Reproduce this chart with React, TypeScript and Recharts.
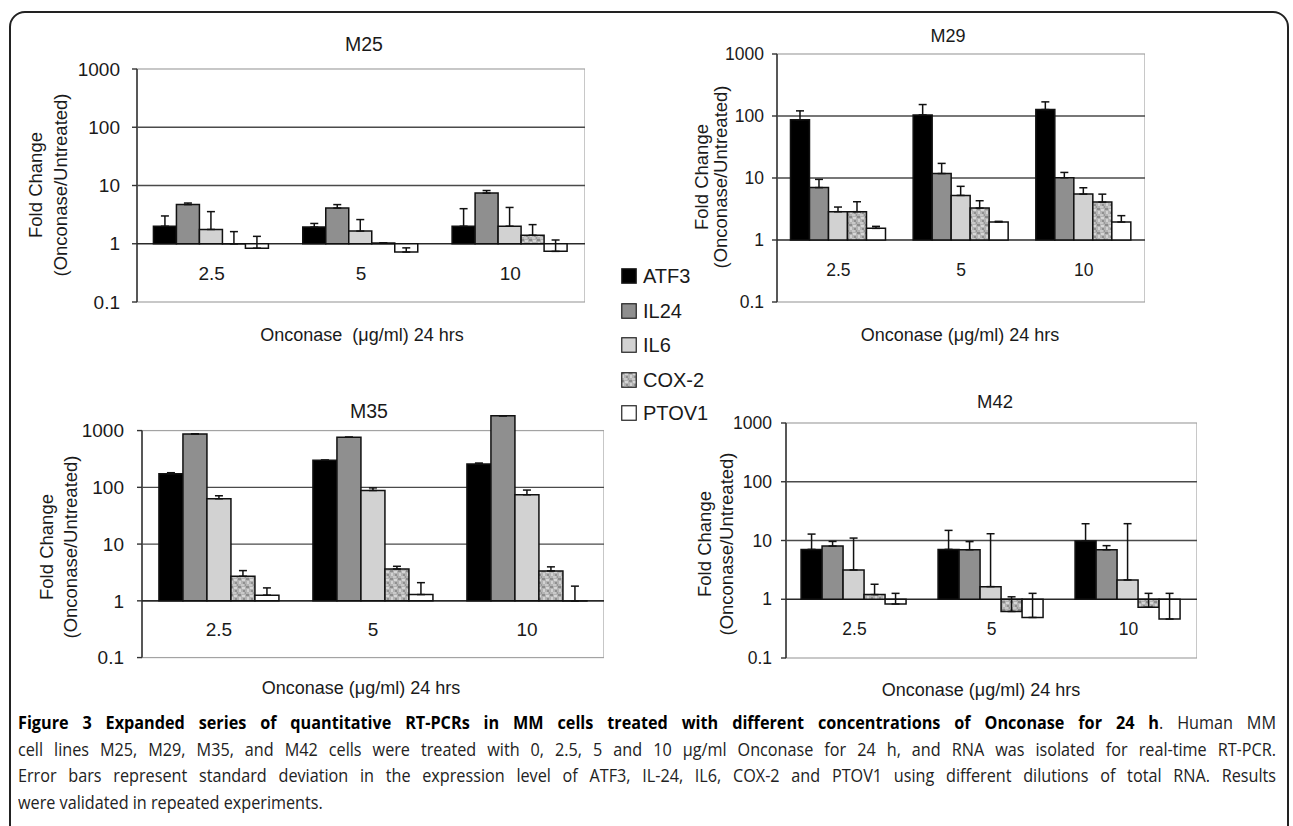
import React from "react";
import {
  BarChart,
  Bar,
  XAxis,
  YAxis,
  ErrorBar,
  ReferenceLine,
  ReferenceArea,
} from "recharts";

const AXIS_FONT = '"Liberation Sans", Arial, sans-serif';
const CAPTION_FONT = '"Open Sans", sans-serif';
const INK = "#1a1a1a";

const DOSES = ["2.5", "5", "10"];
const GENES = ["ATF3", "IL24", "IL6", "COX-2", "PTOV1"];
const Y_TICKS = [0.1, 1, 10, 100, 1000];

// rows follow GENES, columns follow DOSES (fold change, upper SD)
const M25_MEAN = [
  [2.0, 1.93, 2.0],
  [4.7, 4.1, 7.4],
  [1.76, 1.65, 2.0],
  [0.995, 1.03, 1.4],
  [0.84, 0.72, 0.74],
];
const M25_SD = [
  [1.0, 0.3, 2.0],
  [0.3, 0.6, 0.8],
  [1.8, 0.95, 2.2],
  [0.62, 0.01, 0.73],
  [0.5, 0.13, 0.42],
];

const M29_MEAN = [
  [87, 104, 127],
  [7.0, 11.8, 10.1],
  [2.86, 5.24, 5.5],
  [2.86, 3.27, 4.09],
  [1.54, 1.95, 1.95],
];
const M29_SD = [
  [34, 49, 42],
  [2.5, 5.4, 2.2],
  [0.54, 2.1, 1.46],
  [1.28, 1.03, 1.4],
  [0.12, 0.05, 0.52],
];

const M35_MEAN = [
  [174, 301, 257],
  [874, 764, 1824],
  [63, 88, 74],
  [2.71, 3.64, 3.37],
  [1.26, 1.29, 0.995],
];
const M35_SD = [
  [7, 0, 11],
  [0, 0, 0],
  [8, 9.7, 15.5],
  [0.7, 0.42, 0.6],
  [0.43, 0.8, 0.82],
];

const M42_MEAN = [
  [7.06, 7.06, 9.8],
  [8.04, 6.97, 6.97],
  [3.15, 1.64, 2.13],
  [1.2, 0.62, 0.73],
  [0.83, 0.49, 0.46],
];
const M42_SD = [
  [5.8, 7.8, 9.5],
  [1.6, 2.6, 1.2],
  [7.85, 11.4, 17.2],
  [0.6, 0.48, 0.53],
  [0.43, 0.77, 0.8],
];

const GENE_FILLS = ["#000000", "#8f8f8f", "#d2d2d2", "#b4b4b4", "#ffffff"];

const Y_W = 80;
const M_TOP = 14;
const X_H = 14;

const geneKey = (g: string) => g.replace("-", "");

function buildRows(mean: number[][], sd: number[][]) {
  return DOSES.map((dose, j) => {
    const row: Record<string, any> = { dose };
    GENES.forEach((g, i) => {
      // bars start at 1 (Excel axis crossing), going up or down
      row[geneKey(g)] = [1, mean[i][j]];
      row[geneKey(g) + "_sd"] = [0, sd[i][j]];
    });
    return row;
  });
}

function CoxPattern({ id }: { id: string }) {
  return (
    <pattern id={id} width="8" height="8" patternUnits="userSpaceOnUse">
      <rect width="8" height="8" fill="#b3b3b3" />
      <rect x="0" y="0" width="3" height="2" fill="#8c8c8c" />
      <rect x="4" y="1" width="3" height="2" fill="#d6d6d6" />
      <rect x="1" y="3" width="2" height="3" fill="#d2d2d2" />
      <rect x="5" y="4" width="2" height="2" fill="#909090" />
      <rect x="3" y="6" width="3" height="2" fill="#c9c9c9" />
      <rect x="7" y="6" width="1" height="2" fill="#999999" />
    </pattern>
  );
}

// light plot box with the dark value axis on its left edge
const plotBox = (p: any) => (
  <g>
    <rect x={p.x} y={p.y} width={p.width} height={p.height} fill="none" stroke="#a3a3a3" strokeWidth={1.2} />
    <line x1={p.x} y1={p.y} x2={p.x} y2={p.y + p.height} stroke="#333" strokeWidth={1.5} />
  </g>
);

interface PanelProps {
  id: string;
  mean: number[][];
  sd: number[][];
  left: number;
  right: number;
  top: number;
  bottom: number;
  yMax?: number;
  tickFont: number;
  tickGap: number;
  catGap: number;
}

function Panel({ id, mean, sd, left, right, top, bottom, yMax = 1000, tickFont, tickGap, catGap }: PanelProps) {
  const decade = (bottom - top) / 4;
  const plotTop = top - decade * Math.log10(yMax / 1000);
  const width = Y_W + right - left;
  const height = M_TOP + (bottom - plotTop) + X_H;
  const rows = buildRows(mean, sd);
  const patternId = `${id}-cox`;

  return (
    <div style={{ position: "absolute", left: left - Y_W, top: plotTop - M_TOP }}>
      <BarChart
        width={width}
        height={height}
        data={rows}
        margin={{ top: M_TOP, right: 0, bottom: 0, left: 0 }}
        barGap={0}
        barCategoryGap="11%"
      >
        <defs>
          <CoxPattern id={patternId} />
        </defs>
        <ReferenceArea y1={0.1} y2={1000} ifOverflow="visible" shape={plotBox} zIndex={-20} />
        <ReferenceLine y={100} stroke="#4a4a4a" strokeWidth={1.4} zIndex={-10} />
        <ReferenceLine y={10} stroke="#4a4a4a" strokeWidth={1.4} zIndex={-10} />
        <ReferenceLine y={1} stroke="#2a2a2a" strokeWidth={1.6} zIndex={-10} />
        <XAxis
          dataKey="dose"
          height={X_H}
          axisLine={false}
          tickLine={false}
          tickSize={0}
          tickMargin={0}
          interval={0}
          tick={(p: any) => (
            <text
              x={p.x}
              y={p.y - catGap}
              textAnchor="middle"
              dominantBaseline="central"
              fill={INK}
              fontSize={tickFont}
              fontFamily={AXIS_FONT}
            >
              {p.payload.value}
            </text>
          )}
        />
        <YAxis
          width={Y_W}
          scale="log"
          domain={[0.1, yMax]}
          ticks={Y_TICKS}
          interval={0}
          tickSize={5}
          tickMargin={tickGap}
          axisLine={false}
          tickLine={{ stroke: "#333", strokeWidth: 1.4 }}
          tick={{ fill: INK, fontSize: tickFont, fontFamily: AXIS_FONT }}
          tickFormatter={(v) => String(v)}
        />
        {GENES.map((g, i) => (
          <Bar
            key={g}
            dataKey={geneKey(g)}
            fill={i === 3 ? `url(#${patternId})` : GENE_FILLS[i]}
            stroke="#111"
            strokeWidth={1.5}
            isAnimationActive={false}
          >
            <ErrorBar
              dataKey={geneKey(g) + "_sd"}
              direction="y"
              width={4}
              stroke="#111"
              strokeWidth={1.5}
              isAnimationActive={false}
            />
          </Bar>
        ))}
      </BarChart>
    </div>
  );
}

function Txt({
  x,
  y,
  size,
  children,
  rotate = false,
  pre = false,
}: {
  x: number;
  y: number;
  size: number;
  children: React.ReactNode;
  rotate?: boolean;
  pre?: boolean;
}) {
  return (
    <div
      style={{
        position: "absolute",
        left: x,
        top: y,
        transform: `translate(-50%, -50%)${rotate ? " rotate(-90deg)" : ""}`,
        whiteSpace: pre ? "pre" : "nowrap",
        fontSize: size,
        fontFamily: AXIS_FONT,
        color: INK,
        lineHeight: 1,
      }}
    >
      {children}
    </div>
  );
}

function YLabel({ x1, x2, y }: { x1: number; x2: number; y: number }) {
  return (
    <>
      <Txt x={x1} y={y} size={18.5} rotate>
        Fold Change
      </Txt>
      <Txt x={x2} y={y} size={18.5} rotate>
        (Onconase/Untreated)
      </Txt>
    </>
  );
}

function Legend() {
  const rowsY = [276, 311, 345, 380, 413];
  return (
    <>
      {GENES.map((g, i) => (
        <div
          key={g}
          style={{
            position: "absolute",
            left: 621,
            top: rowsY[i] - 11,
            height: 22,
            display: "flex",
            alignItems: "center",
            fontFamily: AXIS_FONT,
            fontSize: 20,
            color: INK,
          }}
        >
          <svg width={16} height={16} style={{ marginRight: 6 }}>
            <defs>
              <CoxPattern id={`legend-cox-${i}`} />
            </defs>
            <rect
              x={0.75}
              y={0.75}
              width={14.5}
              height={14.5}
              fill={i === 3 ? `url(#legend-cox-${i})` : GENE_FILLS[i]}
              stroke="#222"
              strokeWidth={1.2}
            />
          </svg>
          {g}
        </div>
      ))}
    </>
  );
}

const CAPTION_LINES = [
  "cell lines M25, M29, M35, and M42 cells were treated with 0, 2.5, 5 and 10 \u03bcg/ml Onconase for 24 h, and RNA was isolated for real-time RT-PCR.",
  "Error bars represent standard deviation in the expression level of ATF3, IL-24, IL6, COX-2 and PTOV1 using different dilutions of total RNA. Results",
];

const SQUEEZE = 0.9;

function Caption() {
  const line: React.CSSProperties = {
    textAlign: "justify",
    textAlignLast: "justify",
    height: 26.5,
    lineHeight: "26.5px",
  };
  return (
    <div
      style={{
        position: "absolute",
        left: 18,
        top: 709,
        width: 1258 / SQUEEZE,
        transform: `scaleX(${SQUEEZE})`,
        transformOrigin: "0 0",
        fontFamily: CAPTION_FONT,
        fontSize: 18,
        color: "#222",
      }}
    >
      <div style={line}>
        <b style={{ color: "#000" }}>
          Figure 3 Expanded series of quantitative RT-PCRs in MM cells treated with different concentrations of
          Onconase for 24 h
        </b>
        . Human MM
      </div>
      {CAPTION_LINES.map((t) => (
        <div key={t} style={line}>
          {t}
        </div>
      ))}
      <div style={{ height: 26.5, lineHeight: "26.5px" }}>were validated in repeated experiments.</div>
    </div>
  );
}

const X_TITLE = "Onconase (\u03bcg/ml) 24 hrs";

export default function App() {
  return (
    <div
      style={{
        position: "absolute",
        left: 0,
        top: 0,
        width: 1293,
        height: 826,
        overflow: "hidden",
        background: "#fff",
      }}
    >
      <div
        style={{
          position: "absolute",
          left: 9,
          top: 11,
          width: 1276,
          height: 900,
          border: "2px solid #222",
          borderRadius: 16,
        }}
      />

      <Panel id="m25" mean={M25_MEAN} sd={M25_SD} left={137} right={585} top={69} bottom={302} tickFont={19} tickGap={12} catGap={28.5} />
      <Panel id="m29" mean={M29_MEAN} sd={M29_SD} left={777} right={1145} top={54} bottom={302} tickFont={17.5} tickGap={8} catGap={32} />
      <Panel id="m35" mean={M35_MEAN} sd={M35_SD} left={142} right={604} top={431} bottom={658} yMax={2500} tickFont={19} tickGap={13} catGap={28} />
      <Panel id="m42" mean={M42_MEAN} sd={M42_SD} left={786} right={1197} top={423} bottom={658} tickFont={17.5} tickGap={9} catGap={29.5} />

      <Txt x={364} y={45} size={19.5}>M25</Txt>
      <Txt x={948} y={36} size={18}>M29</Txt>
      <Txt x={369} y={412} size={19.5}>M35</Txt>
      <Txt x={995} y={402} size={18.5}>M42</Txt>

      <YLabel x1={36} x2={61} y={185} />
      <YLabel x1={702} x2={721} y={177} />
      <YLabel x1={47} x2={71} y={547} />
      <YLabel x1={705} x2={727} y={544} />

      <Txt x={362} y={335} size={18} pre>
        {"Onconase  (\u03bcg/ml) 24 hrs"}
      </Txt>
      <Txt x={960} y={335} size={18}>{X_TITLE}</Txt>
      <Txt x={361} y={688} size={18}>{X_TITLE}</Txt>
      <Txt x={981} y={690} size={18}>{X_TITLE}</Txt>

      <Legend />
      <Caption />
    </div>
  );
}
